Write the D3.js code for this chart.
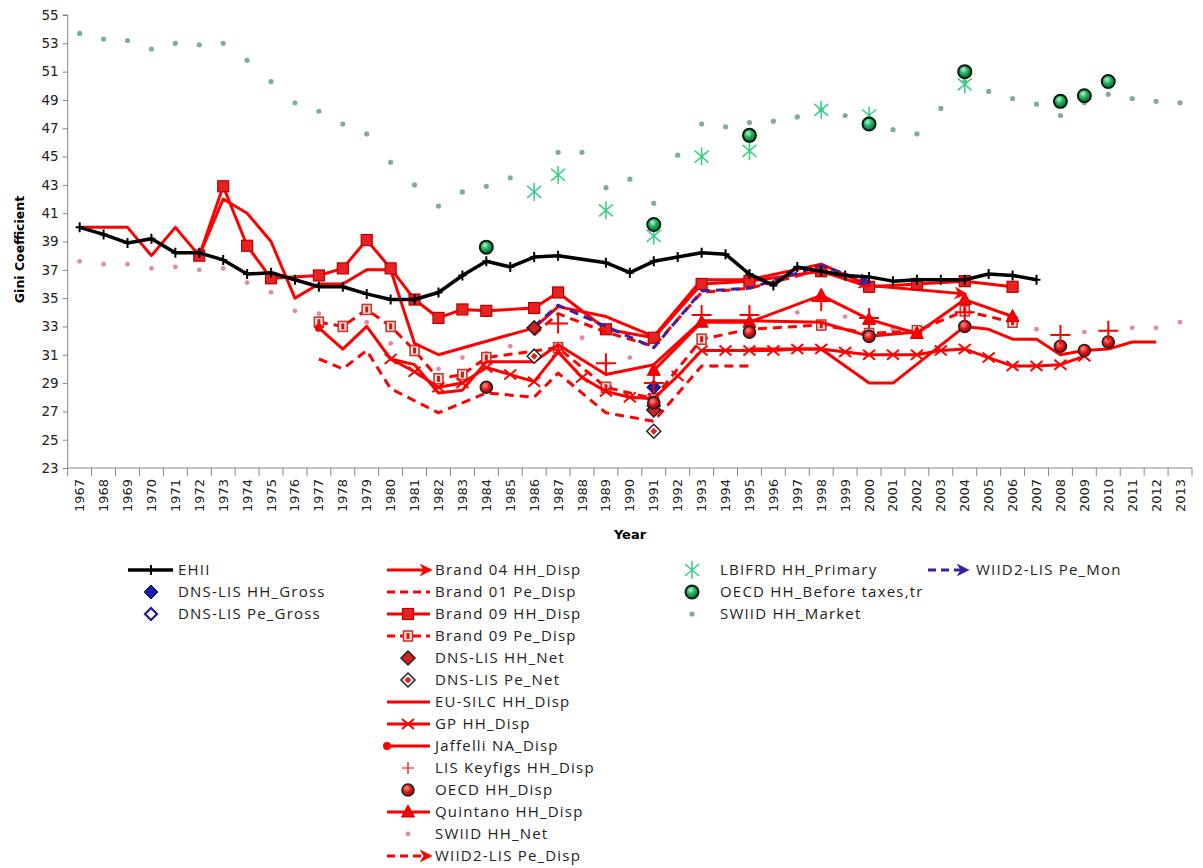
<!DOCTYPE html>
<meta charset="utf-8">
<title>Gini Coefficient</title>
<script src="https://d3js.org/d3.v7.min.js"></script>
<style>
  body { margin: 0; background: #fff; }
  text { font-family: "DejaVu Sans", sans-serif; }
  .leg text { font-family: "Open Sans", sans-serif; font-size: 15px; letter-spacing: 1.2px; fill: #222; }
</style>
<body>
<div id="viz"></div>
<script>
// ---- data ----
const years = d3.range(1967, 2014);
const yTicks = d3.range(23, 56, 2);

const ehii = [[1967,40.0],[1968,39.5],[1969,38.9],[1970,39.2],[1971,38.2],[1972,38.2],[1973,37.7],[1974,36.7],[1975,36.8],[1976,36.3],[1977,35.8],[1978,35.8],[1979,35.3],[1980,34.9],[1981,34.9],[1982,35.4],[1983,36.6],[1984,37.6],[1985,37.2],[1986,37.9],[1987,38.0],[1989,37.5],[1990,36.8],[1991,37.6],[1992,37.9],[1993,38.2],[1994,38.1],[1995,36.7],[1996,35.9],[1997,37.2],[1998,36.9],[1999,36.6],[2000,36.5],[2001,36.2],[2002,36.3],[2003,36.3],[2004,36.3],[2005,36.7],[2006,36.6],[2007,36.3]];
const dnsHHGross = [[1991,28.7]];
const dnsPeGross = [[1991,27.4]];
const brand04 = [[1967,40],[1968,40],[1969,40],[1970,38],[1971,40],[1972,38],[1973,42],[1974,41],[1975,39],[1976,35],[1977,36],[1978,36],[1979,37],[1980,37],[1981,31.8],[1982,31.0],[1986,32.9],[1987,34.4],[1989,33.7],[1991,32.3],[1993,36.3],[1995,36.3],[1998,37.4],[2000,35.9],[2004,35.3]];
const brand01Pe = [[1977,30.7],[1978,30.0],[1979,31.3],[1980,28.6],[1982,26.9],[1984,28.3],[1986,28.0],[1987,29.7],[1989,26.9],[1991,26.3],[1993,30.2],[1995,30.2]];
const brand09HH = [[1972,38.0],[1973,42.9],[1974,38.7],[1975,36.4],[1977,36.6],[1978,37.1],[1979,39.1],[1980,37.1],[1981,34.9],[1982,33.6],[1983,34.2],[1984,34.1],[1986,34.3],[1987,35.4],[1989,32.8],[1991,32.2],[1993,36.0],[1995,36.2],[1998,36.9],[2000,35.8],[2002,36.0],[2004,36.2],[2006,35.8]];
const brand09Pe = [[1977,33.3],[1978,33.0],[1979,34.2],[1980,33.0],[1981,31.3],[1982,29.3],[1983,29.6],[1984,30.8],[1987,31.5],[1989,28.7],[1991,27.9],[1993,32.1],[1995,32.8],[1998,33.1],[2000,32.5],[2002,32.7],[2004,34.1],[2006,33.3]];
const dnsHHNet = [[1986,32.9],[1991,27.1]];
const dnsPeNet = [[1986,30.9],[1991,25.6]];
const euSilc = [[1995,31.4],[1998,31.4],[2000,29.0],[2001,29.0],[2004,33.0],[2005,32.8],[2006,32.1],[2007,32.1],[2008,31.0],[2009,31.3],[2010,31.4],[2011,31.9],[2012,31.9]];
const gp = [[1980,30.7],[1981,29.8],[1982,28.7],[1983,29.0],[1984,30.1],[1985,29.6],[1986,29.1],[1987,31.2],[1988,29.4],[1989,28.4],[1990,28.0],[1991,27.9],[1992,29.5],[1993,31.3],[1994,31.3],[1995,31.3],[1996,31.3],[1997,31.4],[1998,31.4],[1999,31.2],[2000,31.0],[2001,31.0],[2002,31.0],[2003,31.3],[2004,31.4],[2005,30.8],[2006,30.2],[2007,30.2],[2008,30.3],[2009,30.9]];
const jaffelli = [[1977,32.9],[1978,31.4],[1979,33.0],[1980,30.7],[1981,30.3],[1982,28.3],[1983,28.5],[1984,30.5],[1986,30.5],[1987,31.7],[1989,29.6],[1991,30.3],[1993,33.4],[1995,33.4],[1998,33.3],[2000,32.3],[2002,32.6]];
const lisKey = [[1987,33.2],[1989,30.4],[1991,29.0],[1993,33.8],[1995,33.8],[1998,34.8],[2000,33.6],[2004,34.0],[2008,32.4],[2010,32.7]];
const oecdDisp = [[1984,28.7],[1991,27.6],[1995,32.6],[2000,32.3],[2004,33.0],[2008,31.6],[2009,31.3],[2010,31.9]];
const quintano = [[1991,29.9],[1993,33.3],[1995,33.3],[1998,35.2],[2000,33.5],[2002,32.5],[2004,34.9],[2006,33.7]];
const swiidNet = [[1967,37.6],[1968,37.4],[1969,37.4],[1970,37.1],[1971,37.2],[1972,37.0],[1973,37.1],[1974,36.1],[1975,35.4],[1976,34.1],[1977,33.9],[1979,33.3],[1980,31.8],[1982,30.0],[1983,30.8],[1984,31.1],[1985,31.6],[1988,32.2],[1990,30.8],[1997,34.0],[1999,33.7],[2001,32.8],[2007,32.8],[2009,32.6],[2011,32.9],[2012,32.9],[2013,33.3]];
const wiidPeDisp = [[1986,32.4],[1987,33.9],[1989,32.6],[1991,31.6],[1993,35.4],[1995,35.7],[1998,37.0],[2000,35.9]];
const lbifrd = [[1986,42.5],[1987,43.7],[1989,41.2],[1991,39.4],[1993,45.0],[1995,45.4],[1998,48.3],[2000,47.9],[2004,50.1]];
const oecdBefore = [[1984,38.6],[1991,40.2],[1995,46.5],[2000,47.3],[2004,51.0],[2008,48.9],[2009,49.3],[2010,50.3]];
const swiidMarket = [[1967,53.7],[1968,53.3],[1969,53.2],[1970,52.6],[1971,53.0],[1972,52.9],[1973,53.0],[1974,51.8],[1975,50.3],[1976,48.8],[1977,48.2],[1978,47.3],[1979,46.6],[1980,44.6],[1981,43.0],[1982,41.5],[1983,42.5],[1984,42.9],[1985,43.5],[1987,45.3],[1988,45.3],[1989,42.8],[1990,43.4],[1991,41.7],[1992,45.1],[1993,47.3],[1994,47.1],[1995,47.4],[1996,47.5],[1997,47.8],[1998,48.3],[1999,47.9],[2000,47.6],[2001,46.9],[2002,46.6],[2003,48.4],[2004,50.3],[2005,49.6],[2006,49.1],[2007,48.7],[2008,47.9],[2009,48.8],[2010,49.4],[2011,49.1],[2012,48.9],[2013,48.8]];
const wiidPeMon = [[1986,33.0],[1987,34.5],[1991,31.5],[1993,35.5],[1995,35.7],[1998,37.3],[2000,36.1]];

const RED = "#ff0000", PURPLE = "#40209a", GREEN = "#3dcf8a";

// series in drawing order; col/row = legend slot
const series = [
  {name: "SWIID HH_Market", data: swiidMarket, marker: "mdot", col: 3, row: 2},
  {name: "SWIID HH_Net", data: swiidNet, marker: "pdot", col: 2, row: 12},
  {name: "Brand 01 Pe_Disp", data: brand01Pe, line: {c: RED, dash: "9,6"}, col: 2, row: 1},
  {name: "Brand 09 Pe_Disp", data: brand09Pe, line: {c: RED, dash: "9,6"}, marker: "hsq", col: 2, row: 3},
  {name: "EU-SILC HH_Disp", data: euSilc, line: {c: RED}, col: 2, row: 6},
  {name: "Jaffelli NA_Disp", data: jaffelli, line: {c: RED, start: "dot"}, col: 2, row: 8},
  {name: "GP HH_Disp", data: gp, line: {c: RED}, marker: "x", col: 2, row: 7},
  {name: "Quintano HH_Disp", data: quintano, line: {c: RED}, marker: "tri", col: 2, row: 11},
  {name: "Brand 04 HH_Disp", data: brand04, line: {c: RED, end: "red"}, col: 2, row: 0},
  {name: "Brand 09 HH_Disp", data: brand09HH, line: {c: RED}, marker: "sq", col: 2, row: 2},
  {name: "WIID2-LIS Pe_Disp", data: wiidPeDisp, line: {c: RED, dash: "9,6", end: "red"}, col: 2, row: 13},
  {name: "WIID2-LIS Pe_Mon", data: wiidPeMon, line: {c: PURPLE, dash: "9,6", end: "purple"}, col: 4, row: 0},
  {name: "EHII", data: ehii, line: {c: "#000", w: 3.5}, marker: "kplus", col: 1, row: 0},
  {name: "DNS-LIS HH_Gross", data: dnsHHGross, marker: "bdia", col: 1, row: 1},
  {name: "DNS-LIS Pe_Gross", data: dnsPeGross, marker: "bdiah", col: 1, row: 2},
  {name: "DNS-LIS HH_Net", data: dnsHHNet, marker: "rdia", col: 2, row: 4},
  {name: "DNS-LIS Pe_Net", data: dnsPeNet, marker: "rdiah", col: 2, row: 5},
  {name: "OECD HH_Disp", data: oecdDisp, marker: "rcirc", col: 2, row: 10},
  {name: "LIS Keyfigs HH_Disp", data: lisKey, marker: "bigplus", col: 2, row: 9},
  {name: "LBIFRD HH_Primary", data: lbifrd, marker: "ast", col: 3, row: 0},
  {name: "OECD HH_Before taxes,tr", data: oecdBefore, marker: "gcirc", col: 3, row: 1}
];

// ---- chart ----
const width = 1203, height = 868;
const svg = d3.select("#viz").append("svg")
  .attr("width", width).attr("height", height)
  .attr("viewBox", [0, 0, width, height]);

const defs = svg.append("defs");
function arrow(id, color) {
  defs.append("marker").attr("id", id)
    .attr("viewBox", "0 0 10 10").attr("refX", 8).attr("refY", 5)
    .attr("markerUnits", "userSpaceOnUse").attr("markerWidth", 13).attr("markerHeight", 13)
    .attr("orient", "auto")
    .append("path").attr("d", "M0,0 L10,5 L0,10 L3,5 z").attr("fill", color);
}
arrow("arr-red", RED);
arrow("arr-purple", PURPLE);
defs.append("marker").attr("id", "dot-red")
  .attr("viewBox", "0 0 10 10").attr("refX", 5).attr("refY", 5)
  .attr("markerUnits", "userSpaceOnUse").attr("markerWidth", 8).attr("markerHeight", 8)
  .append("circle").attr("cx", 5).attr("cy", 5).attr("r", 5).attr("fill", RED);
const gg = defs.append("radialGradient").attr("id", "gball").attr("cx", "40%").attr("cy", "35%").attr("r", "65%");
gg.append("stop").attr("offset", "0%").attr("stop-color", "#b8f5d0");
gg.append("stop").attr("offset", "45%").attr("stop-color", "#22b561");
gg.append("stop").attr("offset", "100%").attr("stop-color", "#0a6a32");
const rg = defs.append("radialGradient").attr("id", "rball").attr("cx", "40%").attr("cy", "35%").attr("r", "65%");
rg.append("stop").attr("offset", "0%").attr("stop-color", "#ff9a9a");
rg.append("stop").attr("offset", "50%").attr("stop-color", "#e81a1a");
rg.append("stop").attr("offset", "100%").attr("stop-color", "#a00000");

const x = d3.scaleBand().domain(years).range([67.7, 1192]).padding(0);
const y = d3.scaleLinear().domain([23, 55]).range([468, 15]);
const cx = yr => x(yr) + x.bandwidth() / 2;

// axes
const axisColor = "#868686";
const yAxis = svg.append("g").attr("transform", `translate(${x.range()[0]},0)`)
  .call(d3.axisLeft(y).tickValues(yTicks).tickSize(5).tickPadding(4));
yAxis.selectAll("path,line").attr("stroke", axisColor);
yAxis.selectAll("text").attr("font-size", 13.5).attr("fill", "#222").attr("font-family", "DejaVu Sans");
yAxis.select(".domain").attr("d", `M-5,${y(55)}H0V${y(23)}`);

const xAxis = svg.append("g");
xAxis.append("line").attr("x1", x.range()[0]).attr("x2", x.range()[1])
  .attr("y1", y(23)).attr("y2", y(23)).attr("stroke", axisColor);
xAxis.selectAll("line.tk").data(years.concat([null])).join("line").attr("class", "tk")
  .attr("x1", d => d === null ? x.range()[1] : x(d)).attr("x2", d => d === null ? x.range()[1] : x(d))
  .attr("y1", y(23)).attr("y2", y(23) + 8).attr("stroke", axisColor);
xAxis.selectAll("text").data(years).join("text")
  .attr("transform", d => `translate(${cx(d) + 4.5},${y(23) + 11}) rotate(-90)`)
  .attr("text-anchor", "end").attr("font-size", 13).attr("fill", "#222")
  .text(d => d);

svg.append("text").attr("transform", `translate(24,${(y(55) + y(23)) / 2 + 8}) rotate(-90)`)
  .attr("text-anchor", "middle").attr("font-weight", "bold").attr("font-size", 12.5).text("Gini Coefficient");
svg.append("text").attr("x", 630).attr("y", 539).attr("text-anchor", "middle")
  .attr("font-weight", "bold").attr("font-size", 13).text("Year");

// markers
function drawMarker(g, type, px, py, scale = 1) {
  const m = g.append("g").attr("transform", `translate(${px},${py}) scale(${scale})`);
  switch (type) {
    case "kplus":
      m.append("path").attr("d", "M-4,0H4M0,-5V5").attr("stroke", "#000").attr("stroke-width", 2);
      break;
    case "sq":
      m.append("rect").attr("x", -5.5).attr("y", -5.5).attr("width", 11).attr("height", 11)
        .attr("fill", "#e82222").attr("stroke", "#b80000").attr("stroke-width", 1.2);
      break;
    case "hsq":
      m.append("rect").attr("x", -4.5).attr("y", -5).attr("width", 9).attr("height", 10)
        .attr("fill", "#fbe0dc").attr("stroke", "#c43a30").attr("stroke-width", 1.6);
      m.append("rect").attr("x", -1.5).attr("y", -3).attr("width", 3).attr("height", 6).attr("fill", "#d01818");
      break;
    case "x":
      m.append("path").attr("d", "M-6,-5L6,5M-6,5L6,-5").attr("stroke", RED).attr("stroke-width", 2);
      break;
    case "bigplus":
      m.append("path").attr("d", "M-10,0H10M0,-10V10").attr("stroke", RED).attr("stroke-width", 2);
      break;
    case "tri":
      m.append("path").attr("d", "M0,-7L6.5,5H-6.5Z").attr("fill", RED).attr("stroke", "#d00000");
      break;
    case "rcirc":
      m.append("circle").attr("r", 6).attr("fill", "url(#rball)").attr("stroke", "#222").attr("stroke-width", 1.6);
      break;
    case "gcirc":
      m.append("circle").attr("r", 6.5).attr("fill", "url(#gball)").attr("stroke", "#0a1a10").attr("stroke-width", 2);
      break;
    case "ast":
      m.append("path").attr("d", "M0,-9V9M-7,-6L7,6M-7,6L7,-6").attr("stroke", GREEN).attr("stroke-width", 1.6);
      break;
    case "mdot":
      m.append("circle").attr("r", 2.6).attr("fill", "#7fae98");
      break;
    case "pdot":
      m.append("circle").attr("r", 2.4).attr("fill", "#e48aa0");
      break;
    case "bdia":
      m.append("path").attr("d", "M0,-7L7,0L0,7L-7,0Z").attr("fill", "#1c1ca8").attr("stroke", "#10106a").attr("stroke-width", 1);
      break;
    case "bdiah":
      m.append("path").attr("d", "M0,-6L6,0L0,6L-6,0Z").attr("fill", "#fff").attr("stroke", "#1c1c8a").attr("stroke-width", 2.2);
      break;
    case "rdia":
      m.append("path").attr("d", "M0,-7L7,0L0,7L-7,0Z").attr("fill", "#d42020").attr("stroke", "#222").attr("stroke-width", 1.5);
      break;
    case "rdiah":
      m.append("path").attr("d", "M0,-7L7,0L0,7L-7,0Z").attr("fill", "#fff").attr("stroke", "#222").attr("stroke-width", 1.5);
      m.append("path").attr("d", "M0,-3.5L3.5,0L0,3.5L-3.5,0Z").attr("fill", "#e02020");
      break;
  }
}

const line = d3.line().x(d => cx(d[0])).y(d => y(d[1]));
const plot = svg.append("g");

series.forEach(s => {
  if (s.line) {
    const p = plot.append("path").datum(s.data).attr("d", line)
      .attr("fill", "none").attr("stroke", s.line.c).attr("stroke-width", s.line.w || 3)
      .attr("stroke-linejoin", "round");
    if (s.line.dash) p.attr("stroke-dasharray", s.line.dash);
    if (s.line.end) p.attr("marker-end", `url(#arr-${s.line.end})`);
    if (s.line.start) p.attr("marker-start", "url(#dot-red)");
  }
  if (s.marker) s.data.forEach(d => drawMarker(plot, s.marker, cx(d[0]), y(d[1])));
});

// legend
const legCols = {
  1: {x0: 128, x1: 173, mx: 151, tx: 178},
  2: {x0: 387, x1: 430, mx: 408, tx: 435},
  3: {x0: null, x1: null, mx: 692, tx: 720},
  4: {x0: 928, x1: 967, mx: 947, tx: 976}
};
const leg = svg.append("g").attr("class", "leg");
series.forEach(s => {
  const c = legCols[s.col];
  const ly = 570 + s.row * 22;
  if (s.line) {
    const p = leg.append("line").attr("x1", c.x0).attr("x2", c.x1).attr("y1", ly).attr("y2", ly)
      .attr("stroke", s.line.c).attr("stroke-width", s.line.w || 3);
    if (s.line.dash) p.attr("stroke-dasharray", "8,5");
    if (s.line.end) p.attr("marker-end", `url(#arr-${s.line.end})`);
    if (s.line.start) p.attr("marker-start", "url(#dot-red)");
  }
  if (s.marker) drawMarker(leg, s.marker, c.mx, ly, s.marker === "bigplus" ? 0.6 : 1);
  leg.append("text").attr("x", c.tx).attr("y", ly + 5).text(s.name);
});
</script>
</body>
